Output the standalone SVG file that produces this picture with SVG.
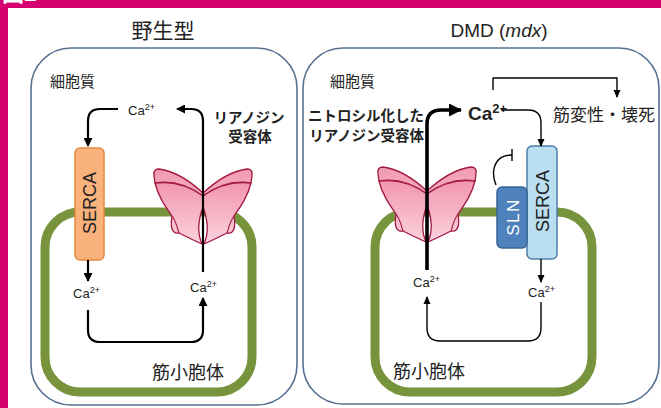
<svg xmlns="http://www.w3.org/2000/svg" width="661" height="408" viewBox="0 0 661 408">
  <defs>
    <style>
      .jp { font-family: "Noto Sans CJK JP", "Noto Sans", sans-serif; fill: #222; }
      .lat { font-family: "Liberation Sans", "Noto Sans", sans-serif; fill: #222; }
      .panel { fill: #ffffff; stroke: #56708f; stroke-width: 1.6; }
      .sr { fill: none; stroke: #77933c; stroke-width: 9; }
      .wire { fill: none; stroke: #000; stroke-width: 2.2; stroke-linejoin: round; }
      .wire-thin { fill: none; stroke: #000; stroke-width: 1.4; stroke-linejoin: round; }
      .wire-bold { fill: none; stroke: #000; stroke-width: 3.6; stroke-linejoin: round; }
      .ryr-back { fill: url(#ryrTop); stroke: #a3183f; stroke-width: 1.3; stroke-linejoin: round; }
      .ryr-front { fill: url(#ryrBody); stroke: #a3183f; stroke-width: 1.3; stroke-linejoin: round; }
      .ryr-line { fill: none; stroke: #a3183f; stroke-width: 1.1; }
    </style>
    <linearGradient id="ryrTop" x1="0" y1="0" x2="0" y2="1">
      <stop offset="0" stop-color="#f29ab3"/>
      <stop offset="1" stop-color="#f4aec1"/>
    </linearGradient>
    <linearGradient id="ryrBody" x1="0" y1="0" x2="0" y2="1">
      <stop offset="0" stop-color="#f296b0"/>
      <stop offset="1" stop-color="#fad3de"/>
    </linearGradient>
    <marker id="head" markerUnits="userSpaceOnUse" markerWidth="9" markerHeight="9" refX="8" refY="4.5" orient="auto">
      <path d="M0,0 L9,4.5 L0,9 Z" fill="#000"/>
    </marker>
    <marker id="headSmall" markerUnits="userSpaceOnUse" markerWidth="8" markerHeight="8" refX="7" refY="4" orient="auto">
      <path d="M0,0.5 L8,4 L0,7.5 Z" fill="#000"/>
    </marker>
    <marker id="headBig" markerUnits="userSpaceOnUse" markerWidth="13" markerHeight="13" refX="12" refY="6.5" orient="auto">
      <path d="M0,0 L13,6.5 L0,13 Z" fill="#000"/>
    </marker>
    <!-- one half of the ryanodine receptor, mirrored for the other half -->
    <g id="ryrHalf">
      <path class="ryr-back" d="M0,28 C-12,17 -28,6 -44,4 Q-50,4 -49,11 L-48,18 C-30,15 -15,20 0,31 Z"/>
      <path class="ryr-front" d="M0,31 C-15,20 -30,16 -48,18 C-45,31 -38,41 -31,51 C-32,57 -33,64 -29,67 C-27,69 -25,68 -24,68 C-16,72 -8,76 -1,79 C-5,70 -6,58 0,42 Z"/>
      <path class="ryr-line" d="M-31,51 C-27,56 -26,62 -24,68"/>
    </g>
    <g id="ryr">
      <use href="#ryrHalf"/>
      <use href="#ryrHalf" transform="scale(-1,1)"/>
    </g>
  </defs>

  <!-- page frame -->
  <rect x="0" y="0" width="661" height="408" fill="#ffffff"/>
  <rect x="0" y="0" width="661" height="8" fill="#d5006d"/>
  <rect x="0" y="0" width="8" height="408" fill="#d5006d"/>
  <text x="2" y="1" font-family="Noto Sans CJK JP, sans-serif" font-size="22" font-weight="bold" fill="#ffffff">図2</text>

  <!-- panel titles -->
  <text class="jp" x="163" y="38" font-size="21" text-anchor="middle">野生型</text>
  <text class="lat" x="499" y="37" font-size="19" text-anchor="middle">DMD (<tspan font-style="italic">mdx</tspan>)</text>

  <!-- wild-type panel -->
  <g id="panel-wt">
    <rect class="panel" x="31" y="48" width="266" height="357" rx="40"/>
    <text class="jp" x="50" y="87" font-size="15">細胞質</text>
  </g>
  <g id="sr-wt">
    <rect class="sr" x="45" y="212" width="207" height="180" rx="35"/>
    <text class="jp" x="152" y="379" font-size="18">筋小胞体</text>
  </g>
  <g id="serca-wt">
    <rect x="75" y="148" width="29" height="112" rx="5" fill="#f9b27c" stroke="#e4893e" stroke-width="1.5"/>
    <text class="lat" transform="translate(90,203) rotate(-90)" font-size="18" text-anchor="middle" dominant-baseline="central">SERCA</text>
  </g>
  <g id="ryr-wt">
    <use href="#ryr" transform="translate(203,165)"/>
    <text class="jp" x="249" y="123" font-size="14.5" font-weight="bold" text-anchor="middle">リアノジン</text>
    <text class="jp" x="250" y="142" font-size="14.5" font-weight="bold" text-anchor="middle">受容体</text>
  </g>
  <g id="ca-wt">
    <text class="lat" x="128" y="115" font-size="13">Ca<tspan font-size="9" dy="-5">2+</tspan></text>
    <text class="lat" x="73" y="298" font-size="13">Ca<tspan font-size="9" dy="-5">2+</tspan></text>
    <text class="lat" x="190" y="292" font-size="13">Ca<tspan font-size="9" dy="-5">2+</tspan></text>
  </g>

  <!-- mdx panel -->
  <g id="panel-mdx">
    <rect class="panel" x="303" y="48" width="356" height="356" rx="40"/>
    <text class="jp" x="330" y="87" font-size="15">細胞質</text>
  </g>
  <g id="sr-mdx">
    <rect class="sr" x="375" y="212" width="217" height="180" rx="35"/>
    <text class="jp" x="393" y="378" font-size="18">筋小胞体</text>
  </g>
  <g id="ryr-mdx">
    <use href="#ryr" transform="translate(427,163)"/>
    <text class="jp" x="424" y="121" font-size="14.5" font-weight="bold" text-anchor="end">ニトロシル化した</text>
    <text class="jp" x="424" y="141" font-size="14.5" font-weight="bold" text-anchor="end">リアノジン受容体</text>
  </g>
  <g id="serca-mdx">
    <rect x="527" y="146" width="30" height="113" rx="5" fill="#b9dff0" stroke="#4f7fa6" stroke-width="1.5"/>
    <text class="lat" transform="translate(543,201) rotate(-90)" font-size="18" text-anchor="middle" dominant-baseline="central">SERCA</text>
  </g>
  <g id="sln">
    <rect x="497" y="187" width="30" height="61" rx="5" fill="#4f81bd" stroke="#3a6594" stroke-width="1.5"/>
    <text class="lat" transform="translate(513,217) rotate(-90)" font-size="17" letter-spacing="1.5" text-anchor="middle" dominant-baseline="central" style="fill:#ffffff">SLN</text>
  </g>
  <g id="ca-mdx">
    <text class="lat" x="468" y="120" font-size="19" font-weight="bold">Ca<tspan font-size="13" dy="-7">2+</tspan></text>
    <text class="lat" x="413" y="287" font-size="13">Ca<tspan font-size="9" dy="-5">2+</tspan></text>
    <text class="lat" x="528" y="297" font-size="13">Ca<tspan font-size="9" dy="-5">2+</tspan></text>
  </g>
  <g id="outcome">
    <text class="jp" x="553" y="121" font-size="17">筋変性・壊死</text>
  </g>

  <!-- connectors -->
  <g id="connectors">
    <!-- wild type -->
    <path class="wire" d="M118,109 H100 Q88,109 88,121 V146" marker-end="url(#head)"/>
    <path class="wire" d="M203,272 V121 Q203,109 191,109 H177" marker-end="url(#head)"/>
    <path class="wire" d="M88,260 V281" marker-end="url(#head)"/>
    <path class="wire" d="M88,310 V330 Q88,342 100,342 H191 Q203,342 203,330 V298" marker-end="url(#head)"/>
    <!-- mdx -->
    <path class="wire-bold" d="M427,270 V124 Q427,110 441,110 H461" marker-end="url(#headBig)"/>
    <path class="wire-thin" d="M501,110 H528 Q541,110 541,123 V146" marker-end="url(#headSmall)"/>
    <path class="wire-thin" d="M541,259 V282" marker-end="url(#headSmall)"/>
    <path class="wire-thin" d="M541,302 V328 Q541,341 528,341 H440 Q427,341 427,328 V297" marker-end="url(#headSmall)"/>
    <path class="wire-thin" d="M493,90 V78 H617 V97" marker-end="url(#headSmall)"/>
    <!-- SLN inhibition of SERCA -->
    <path class="wire-thin" d="M496,185 C490,170 495,155 512,155"/>
    <path class="wire-thin" d="M512,149 V161"/>
  </g>
</svg>
